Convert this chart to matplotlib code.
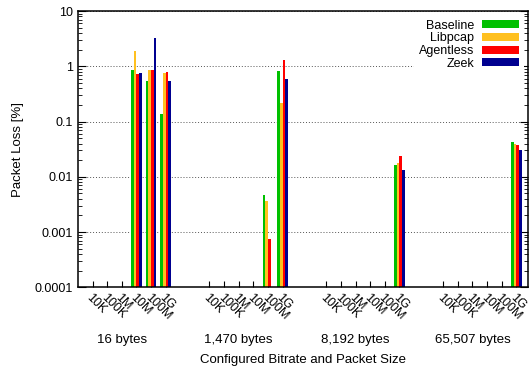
import matplotlib.pyplot as plt
import numpy as np
from matplotlib.patches import Patch
from matplotlib.ticker import FixedLocator, LogLocator, NullFormatter

plt.rcParams['font.family'] = ['Liberation Sans', 'DejaVu Sans']

nan = np.nan
bitrates = ['10K', '100K', '1M', '10M', '100M', '1G']
sizes = ['16 bytes', '1,470 bytes', '8,192 bytes', '65,507 bytes']
series = ['Baseline', 'Libpcap', 'Agentless', 'Zeek']
colors = ['#00c000', '#ffc020', '#ff0000', '#000090']

# packet loss [%] per packet size (rows) and bitrate (columns), nan = no loss
baseline = [[nan, nan, nan, 0.87, 0.55, 0.134],
            [nan, nan, nan, nan, 0.0046, 0.83],
            [nan, nan, nan, nan, nan, 0.0162],
            [nan, nan, nan, nan, nan, 0.042]]
libpcap = [[nan, nan, nan, 1.92, 0.87, 0.77],
           [nan, nan, nan, nan, 0.0036, 0.22],
           [nan, nan, nan, nan, nan, 0.0179],
           [nan, nan, nan, nan, nan, 0.039]]
agentless = [[nan, nan, nan, 0.71, 0.87, 0.80],
             [nan, nan, nan, nan, 0.00076, 1.32],
             [nan, nan, nan, nan, nan, 0.024],
             [nan, nan, nan, nan, nan, 0.038]]
zeek = [[nan, nan, nan, 0.77, 3.3, 0.55],
        [nan, nan, nan, nan, nan, 0.60],
        [nan, nan, nan, nan, nan, 0.013],
        [nan, nan, nan, nan, nan, 0.030]]
data = [baseline, libpcap, agentless, zeek]

fig = plt.figure(figsize=(5.29, 3.68), dpi=100)
ax = fig.add_axes([78 / 529, 1 - 287.3 / 368, 450 / 529, 276.3 / 368])

ngroup = len(bitrates) + 2
x = np.array([g * ngroup + i for g in range(len(sizes)) for i in range(len(bitrates))])
w = 0.185
for k, (name, vals) in enumerate(zip(series, data)):
    v = np.array(vals, dtype=float).ravel()
    ax.bar(x + (k - 1.5) * w, v, width=w, bottom=1e-6, color=colors[k],
           label=name, zorder=2, linewidth=0)

ax.set_yscale('log')
ax.set_ylim(1e-4, 10)
ax.set_xlim(-1, 29.8)

ax.yaxis.set_major_locator(FixedLocator([1e-4, 1e-3, 1e-2, 1e-1, 1, 10]))
ax.set_yticklabels(['0.0001', '0.001', '0.01', '0.1', '1', '10'])
ax.yaxis.set_minor_locator(LogLocator(base=10, subs=np.arange(2, 10)))
ax.yaxis.set_minor_formatter(NullFormatter())
ax.tick_params(axis='y', which='major', direction='in', length=6, width=0.8,
               left=True, right=True, labelsize=9)
ax.tick_params(axis='y', which='minor', direction='in', length=3, width=0.6,
               left=True, right=True)

ax.set_xticks(x)
ax.set_xticklabels(bitrates * len(sizes), rotation=-45, ha='left', va='top',
                   rotation_mode='anchor', fontsize=9)
ax.tick_params(axis='x', which='major', direction='in', length=4, width=0.8,
               pad=3, top=False)

ax.grid(axis='y', which='major', linestyle=(0, (1, 2)), color='#555555',
        linewidth=0.7, zorder=0)
ax.set_axisbelow(True)
for s in ax.spines.values():
    s.set_linewidth(1.1)

for g, label in enumerate(sizes):
    ax.text(g * ngroup + 2, -0.192, label, transform=ax.get_xaxis_transform(),
            ha='center', va='center', fontsize=9.5)
ax.text(0.5, -0.263, 'Configured Bitrate and Packet Size', transform=ax.transAxes,
        ha='center', va='center', fontsize=9.5)
fig.text(18 / 529, 1 - 150 / 368, 'Packet Loss [%]', rotation=90,
         ha='center', va='center', fontsize=9.5)

handles = [Patch(facecolor=c, edgecolor='none') for c in colors]
leg = ax.legend(handles, series, loc='upper right', markerfirst=False,
                frameon=True, framealpha=1, edgecolor='none', fancybox=False,
                fontsize=9, handlelength=3.0, handleheight=0.6, labelspacing=0.05,
                handletextpad=0.6, borderaxespad=0.3, borderpad=0.4)
leg.set_zorder(5)

fig.savefig('out.png', dpi=100)
